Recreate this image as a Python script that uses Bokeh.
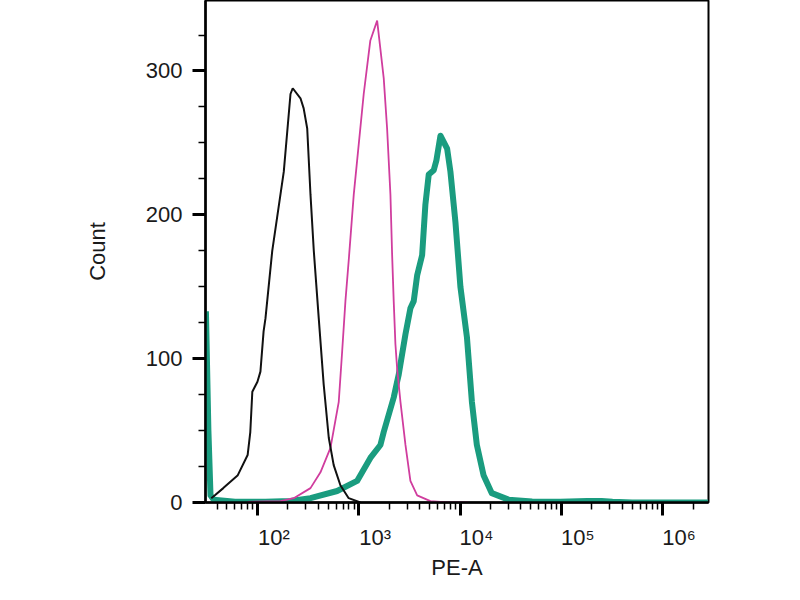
from bokeh.plotting import figure
from bokeh.models import Range1d, FixedTicker, LogAxis, LogScale
from bokeh.embed import file_html
from bokeh.resources import INLINE

# PE-A intensity / event count
black_x = [35, 38, 46, 64, 80, 85, 89, 100, 107, 115, 120, 140, 182, 212, 223, 266,
           286, 310, 334, 360, 403, 451, 506, 566, 659, 796, 1040]
black_y = [3, 5, 10, 19, 33, 49, 77, 84, 91, 119, 128, 175, 230, 284, 288, 281,
           274, 260, 214, 175, 128, 82, 45, 26, 12, 3, 0]

pink_x = [80, 169, 228, 334, 419, 526, 635, 686, 739, 800, 893, 1000, 1120, 1300, 1520,
          1765, 1906, 2056, 2137, 2215, 2303, 2395, 2582, 2893, 3237, 3776, 5100, 7460, 12000]
pink_y = [0.5, 1, 3, 10, 21, 38, 70, 105, 140, 170, 214, 249, 284, 321, 335,
          295, 260, 214, 172, 140, 110, 93, 70, 40, 15, 5, 1, 0, 0]

green_x = [31, 32.8, 34.4, 37, 60, 120, 212, 334, 612, 964, 1303, 1637, 1765, 1977, 2215,
           2395, 2483, 2893, 3237, 3491, 3776, 4227, 4550, 4910, 5500, 5850, 6410, 7460,
           8040, 9010, 10090, 11700, 13100, 14660, 17070, 20600, 30100, 51500, 97700,
           180000, 250000, 320000, 500000, 2800000]
green_y = [133, 50, 5, 2, 0.5, 0.5, 1, 3, 8, 15, 31, 40, 49, 61, 73,
           84, 89, 117, 135, 140, 158, 172, 207, 228, 231, 238, 255, 246,
           230, 195, 150, 115, 70, 40, 19, 6.5, 2, 0.7, 0.5,
           1, 1, 0.5, 0, 0]

x_ticks = [100, 1000, 10000, 100000, 1000000]
x_tick_labels = ["10²", "10³", "10⁴", "10⁵", "10⁶"]
y_ticks = [0, 100, 200, 300]

FONT = "Liberation Sans"
X_START, X_END = 30.7, 2.84e6
LABEL_SHIFT = 10 ** 0.163   # tick labels sit right of their decade tick

p = figure(width=784, height=584, x_axis_type="log",
           x_range=Range1d(X_START, X_END), y_range=Range1d(0, 349),
           output_backend="svg", toolbar_location=None,
           min_border_left=205, min_border_right=76,
           min_border_top=0, min_border_bottom=82)

p.xgrid.visible = False
p.ygrid.visible = False
p.outline_line_color = "black"
p.outline_line_width = 2
p.background_fill_color = "white"
p.border_fill_color = "white"

p.line(green_x, green_y, line_color="#1a9c7f", line_width=6, line_join="round")
p.line(pink_x, pink_y, line_color="#d03d9e", line_width=1.8)
p.line(black_x, black_y, line_color="#111111", line_width=2)

# x axis ticks (no labels here)
xminor = [m * 10 ** k for k in range(1, 7) for m in range(2, 10)]
xa = p.xaxis[0]
xa.ticker = FixedTicker(ticks=x_ticks, minor_ticks=xminor)
xa.major_label_overrides = {t: " " for t in x_ticks}
xa.major_label_text_font_size = "1px"
xa.major_label_standoff = 0
xa.axis_line_width = 2.5
xa.axis_line_color = "black"
xa.major_tick_out = 13
xa.major_tick_in = 0
xa.major_tick_line_width = 3
xa.minor_tick_out = 7
xa.minor_tick_in = 0
xa.minor_tick_line_width = 1.5

# x tick labels on a shifted copy of the range
p.extra_x_ranges = {"lbl": Range1d(X_START / LABEL_SHIFT, X_END / LABEL_SHIFT)}
p.extra_x_scales = {"lbl": LogScale()}
la = LogAxis(x_range_name="lbl", ticker=FixedTicker(ticks=x_ticks, minor_ticks=[]),
             major_label_overrides=dict(zip(x_ticks, x_tick_labels)))
la.axis_line_color = None
la.major_tick_line_color = None
la.minor_tick_line_color = None
la.major_tick_out = 0
la.major_tick_in = 0
la.minor_tick_out = 0
la.minor_tick_in = 0
la.major_label_text_font = FONT
la.major_label_text_font_size = "22px"
la.major_label_text_color = "#1a1a1a"
la.major_label_standoff = 5
la.axis_label = "PE-A"
la.axis_label_text_font = FONT
la.axis_label_text_font_size = "22px"
la.axis_label_text_font_style = "normal"
la.axis_label_text_color = "#1a1a1a"
la.axis_label_standoff = 2
p.add_layout(la, "below")

ya = p.yaxis[0]
ya.ticker = FixedTicker(ticks=y_ticks, minor_ticks=[v for v in range(25, 350, 25) if v % 100])
ya.axis_line_width = 2.5
ya.axis_line_color = "black"
ya.major_tick_out = 13
ya.major_tick_in = 0
ya.major_tick_line_width = 3
ya.minor_tick_out = 7
ya.minor_tick_in = 0
ya.minor_tick_line_width = 1.5
ya.major_label_text_font = FONT
ya.major_label_text_font_size = "22px"
ya.major_label_text_color = "#1a1a1a"
ya.major_label_standoff = 10
ya.axis_label = "Count"
ya.axis_label_text_font = FONT
ya.axis_label_text_font_size = "22px"
ya.axis_label_text_font_style = "normal"
ya.axis_label_text_color = "#1a1a1a"
ya.axis_label_standoff = 33

open("out.html", "w").write(file_html(p, INLINE))
